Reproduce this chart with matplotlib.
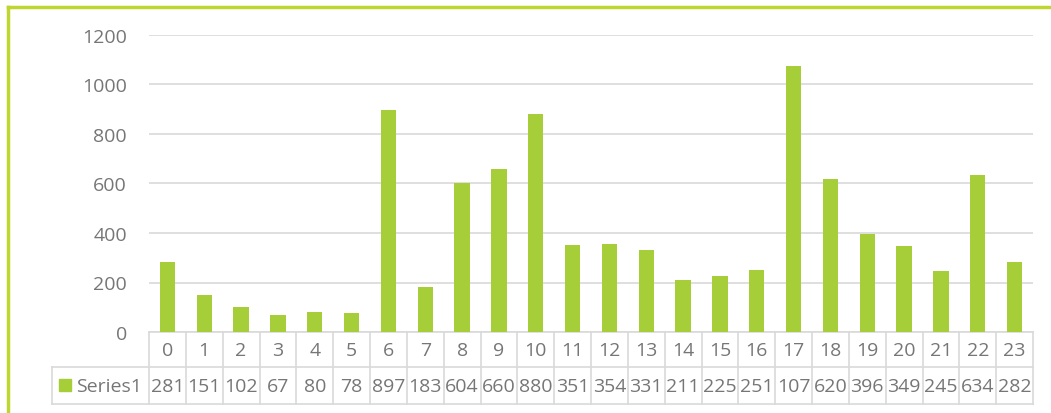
import matplotlib.pyplot as plt
from matplotlib.lines import Line2D
from matplotlib.patches import Rectangle

hours = [str(h) for h in range(24)]
values = [281, 151, 102, 67, 80, 78, 897, 183, 604, 660, 880, 351,
          354, 331, 211, 225, 251, 1075, 620, 396, 349, 245, 634, 282]
# the data table shows the clipped text Excel drew
table_labels = ['281', '151', '102', '67', '80', '78', '897', '183', '604',
                '660', '880', '351', '354', '331', '211', '225', '251', '107',
                '620', '396', '349', '245', '634', '282']
series_name = 'Series1'
yticks = [0, 200, 400, 600, 800, 1000, 1200]

bar_color = '#A6CE39'
border_color = '#BFD630'
grid_color = '#D9D9D9'
text_color = '#767676'

plt.rcParams['font.family'] = ['Open Sans', 'DejaVu Sans']

W, H = 1051, 414
fig = plt.figure(figsize=(W / 100, H / 100), dpi=100)


def fx(px):
    return px / W


def fy(py):
    return 1 - py / H


left, right = 149, 1033
top, zero = 36, 333
ax = fig.add_axes([fx(left), fy(zero), fx(right - left), fy(top) - fy(zero)])
ax.bar(range(24), values, width=0.42, color=bar_color, zorder=3)
ax.set_xlim(-0.5, 23.5)
ax.set_ylim(0, 1200)
ax.set_yticks(yticks)
ax.set_xticks([])
ax.grid(axis='y', color=grid_color, linewidth=1.2, zorder=0)
for side in ['top', 'right', 'left']:
    ax.spines[side].set_visible(False)
ax.spines['bottom'].set_color(grid_color)
ax.spines['bottom'].set_linewidth(1.2)
ax.tick_params(axis='y', length=0, pad=16, labelsize=14, labelcolor=text_color)

# data table below the plot
row_mid = 368
table_bottom = 405
key_left = 52
tax = fig.add_axes([fx(key_left), fy(table_bottom), fx(right - key_left),
                    fy(zero) - fy(table_bottom)])
col_w = (right - left) / 24
x0 = -(left - key_left) / col_w - 0.5
tax.set_xlim(x0, 23.5)
tax.set_ylim(0, table_bottom - zero)
tax.invert_yaxis()
tax.axis('off')
y_mid = row_mid - zero
y_bot = table_bottom - zero
lw = 1.2
tax.plot([x0, 23.5], [y_mid, y_mid], color=grid_color, lw=lw, clip_on=False)
tax.plot([x0, 23.5], [y_bot, y_bot], color=grid_color, lw=lw, clip_on=False)
tax.plot([x0, x0], [y_mid, y_bot], color=grid_color, lw=lw, clip_on=False)
for i in range(25):
    xb = i - 0.5
    tax.plot([xb, xb], [0, y_bot], color=grid_color, lw=lw, clip_on=False)
for i, (h, lab) in enumerate(zip(hours, table_labels)):
    tax.text(i, y_mid / 2 + 1, h, ha='center', va='center', fontsize=14,
             color=text_color)
    tax.text(i, (y_mid + y_bot) / 2 + 1, lab, ha='center', va='center',
             fontsize=14, color=text_color)
tax.add_patch(Rectangle((x0 + 7 / col_w, y_mid + 12), 12 / col_w, 12,
                        color=bar_color, clip_on=False))
tax.text(x0 + 24 / col_w, (y_mid + y_bot) / 2 + 1, series_name, ha='left',
         va='center', fontsize=14, color=text_color)

# chart-area border (only the top and left edges are in frame)
fig.add_artist(Line2D([fx(8), fx(8)], [0, fy(8)], color=border_color, lw=2.5))
fig.add_artist(Line2D([fx(8), 1], [fy(8), fy(8)], color=border_color, lw=2.5))

fig.savefig('out.png', dpi=100)
